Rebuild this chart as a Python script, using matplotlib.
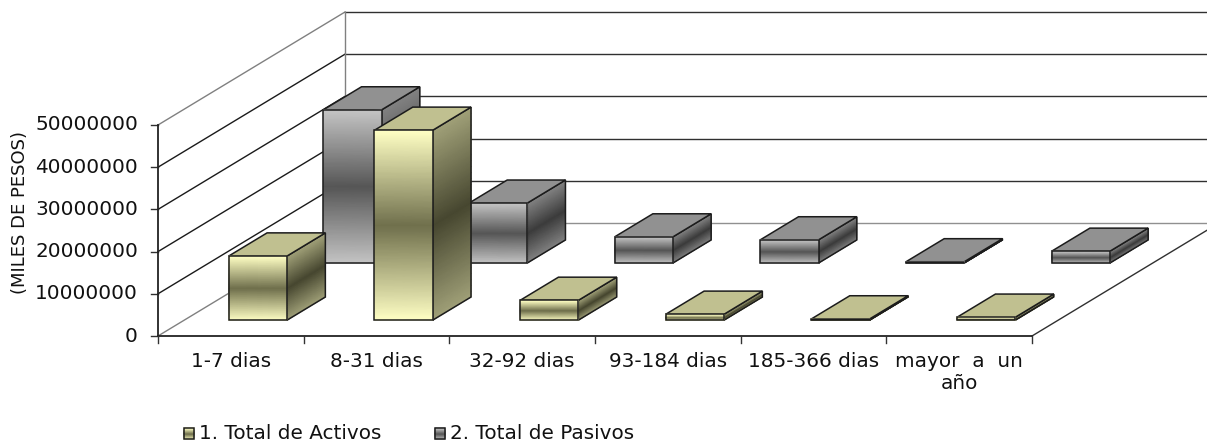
import matplotlib
matplotlib.use("Agg")
import matplotlib.pyplot as plt
import numpy as np
from matplotlib.colors import LinearSegmentedColormap
from matplotlib.patches import Polygon

categories = ["1-7 dias", "8-31 dias", "32-92 dias", "93-184 dias", "185-366 dias", "mayor  a  un\naño"]
activos = [15200000, 45000000, 4700000, 1400000, 300000, 700000]
pasivos = [36300000, 14200000, 6200000, 5500000, 300000, 2800000]
y_ticks = [0, 10000000, 20000000, 30000000, 40000000, 50000000]
legend_labels = ["1. Total de Activos", "2. Total de Pasivos"]

# chart box in image pixels
X0, Y0 = 158, 336
FLOOR_W = 874
PX_PER_UNIT = 42.2 / 10000000
DEPTH_X, DEPTH_Y = 187, -113
FONT = 14.4

yellow = {
    "front": LinearSegmentedColormap.from_list("yf", ["#FFFFC4", "#6F6F4C", "#FFFFC4"]),
    "side": LinearSegmentedColormap.from_list("ys", ["#A0A078", "#474730", "#A0A078"]),
    "top": "#C0C090",
}
gray = {
    "front": LinearSegmentedColormap.from_list("gf", ["#C4C4C4", "#565656", "#C4C4C4"]),
    "side": LinearSegmentedColormap.from_list("gs", ["#828282", "#3C3C3C", "#828282"]),
    "top": "#919191",
}


def project(x, value, depth):
    """x in categories, value in pesos, depth 0-1 -> image pixels"""
    px = X0 + x * FLOOR_W / len(categories) + depth * DEPTH_X
    py = Y0 - value * PX_PER_UNIT + depth * DEPTH_Y
    return px, py


def shaded_face(ax, corners, cmap, zorder):
    # corners: bottom-left, bottom-right, top-right, top-left
    bl, br, tr, tl = [np.array(c) for c in corners]
    v = np.linspace(0, 1, 33)
    left = bl + np.outer(v, tl - bl)
    right = br + np.outer(v, tr - br)
    X = np.column_stack([left[:, 0], right[:, 0]])
    Y = np.column_stack([left[:, 1], right[:, 1]])
    C = np.column_stack([v, v])
    ax.pcolormesh(X, Y, C, cmap=cmap, vmin=0, vmax=1, shading="gouraud", zorder=zorder)
    ax.add_patch(Polygon([bl, br, tr, tl], closed=True, fill=False, ec="#1c1c1c", lw=1.1, zorder=zorder + 0.1))


def draw_bar(ax, i, value, d0, d1, style, zorder):
    x0, x1 = i + 0.306, i + 0.706
    fbl = project(x0, 0, d0)
    fbr = project(x1, 0, d0)
    ftr = project(x1, value, d0)
    ftl = project(x0, value, d0)
    bbr = project(x1, 0, d1)
    btr = project(x1, value, d1)
    btl = project(x0, value, d1)
    shaded_face(ax, [fbr, bbr, btr, ftr], style["side"], zorder)
    ax.add_patch(Polygon([ftl, ftr, btr, btl], closed=True, fc=style["top"], ec="#1c1c1c", lw=1.1, zorder=zorder + 0.2))
    shaded_face(ax, [fbl, fbr, ftr, ftl], style["front"], zorder + 0.3)


fig = plt.figure(figsize=(12.07, 4.42), dpi=100)
ax = fig.add_axes([0, 0, 1, 1])
n = len(categories)

# walls and gridlines
for t in y_ticks:
    a = project(0, t, 0)
    b = project(0, t, 1)
    c = project(n, t, 1)
    col = "#808080" if t in (0, y_ticks[-1]) else "#1a1a1a"
    back_col = "#909090" if t == 0 else "#303030"
    ax.plot([a[0], b[0]], [a[1], b[1]], color=col, lw=1.0, zorder=1)
    ax.plot([b[0], c[0]], [b[1], c[1]], color=back_col, lw=1.0, zorder=1)
    ax.plot([a[0] - 7, a[0]], [a[1], a[1]], color="#303030", lw=1.0, zorder=3)
    ax.text(138, a[1], str(t), ha="right", va="center", fontsize=FONT, color="#111111")

top_back = project(0, y_ticks[-1], 1)
ax.plot([top_back[0], top_back[0]], [top_back[1], project(0, 0, 1)[1]], color="#808080", lw=1.0, zorder=1)

# floor edge and axes
fr = project(n, 0, 0)
br_corner = project(n, 0, 1)
ax.plot([fr[0], br_corner[0]], [fr[1], br_corner[1]], color="#303030", lw=1.0, zorder=1)
ax.plot([X0, fr[0]], [Y0, Y0], color="#222222", lw=1.3, zorder=3)
ax.plot([X0, X0], [Y0, project(0, y_ticks[-1], 0)[1]], color="#222222", lw=1.3, zorder=3)
for i in range(n + 1):
    px, _ = project(i, 0, 0)
    ax.plot([px, px], [Y0, Y0 + 7], color="#333333", lw=1.0, zorder=3)

# back row first so the front row covers it
for i, v in enumerate(pasivos):
    draw_bar(ax, i, v, 0.646, 0.85, gray, 5 + i * 0.5)
for i, v in enumerate(activos):
    draw_bar(ax, i, v, 0.14, 0.345, yellow, 10 + i * 0.5)

for i, label in enumerate(categories):
    px, _ = project(i + 0.5, 0, 0)
    ax.text(px, 352, label, ha="center", va="top", fontsize=FONT, color="#111111", linespacing=1.22)

ax.text(20, 213, "(MILES DE PESOS)", rotation=90, ha="center", va="center", fontsize=13, color="#111111")

# legend
for lx, tx, label, style in [(184, 199, legend_labels[0], yellow), (435, 450, legend_labels[1], gray)]:
    shaded_face(ax, [(lx, 439), (lx + 10, 439), (lx + 10, 428), (lx, 428)], style["front"], 5)
    ax.text(tx, 433.5, label, ha="left", va="center", fontsize=FONT, color="#111111")

ax.set_xlim(0, 1207)
ax.set_ylim(442, 0)
ax.axis("off")
fig.savefig("out.png", dpi=100, facecolor="white")
